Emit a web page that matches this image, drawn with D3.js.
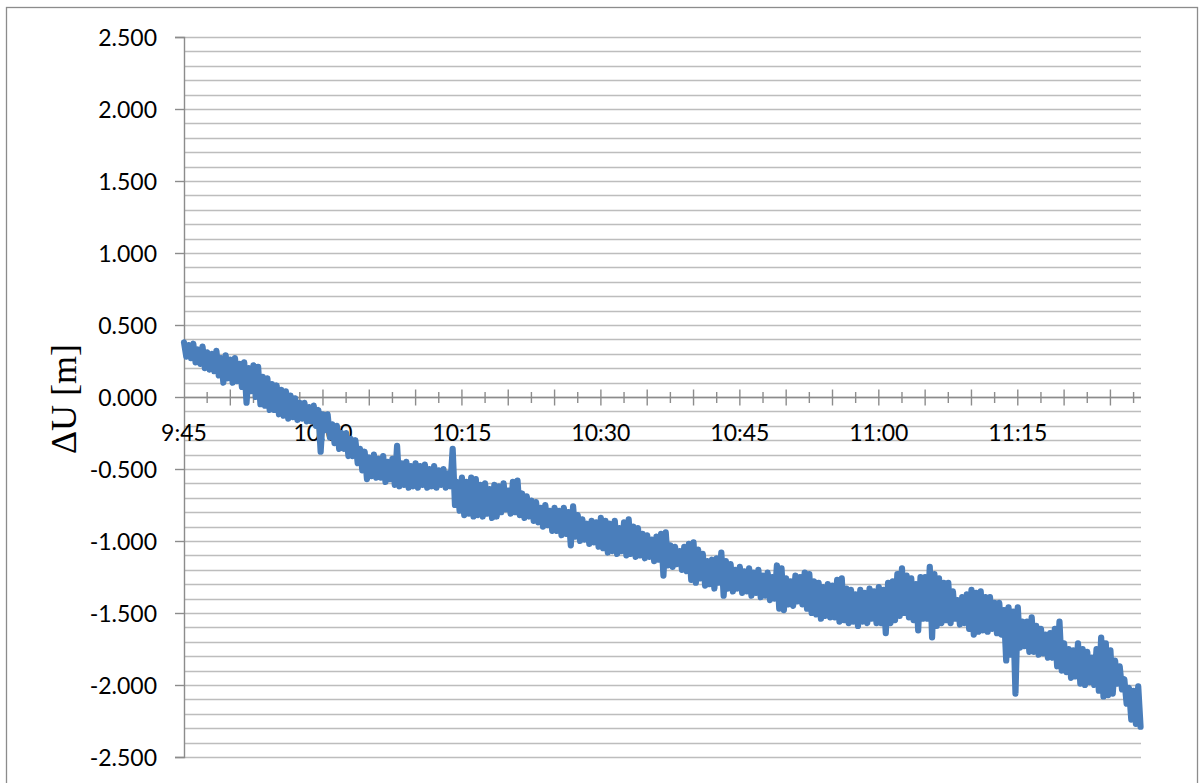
<!DOCTYPE html>
<html>
<head>
<meta charset="utf-8">
<script src="https://cdn.jsdelivr.net/npm/d3@7"></script>
<style>
  html, body { margin: 0; padding: 0; background: #ffffff; }
  svg { display: block; }
</style>
</head>
<body>
<svg id="chart" width="1201" height="783"></svg>
<script>
// ---- data: ΔU [m] envelope per 0.5-minute bin after 9:45 (max and min in each bin) ----
const binMinutes = 0.5;
const duMax = [
  0.38, 0.36, 0.37, 0.33, 0.35, 0.31, 0.30, 0.32, 0.27, 0.29,
  0.26, 0.27, 0.23, 0.24, 0.20, 0.22, 0.21, 0.14, 0.13, 0.09,
  0.08, 0.05, 0.04, 0.01, -0.01, -0.04, -0.04, -0.07, -0.06, -0.09,
  -0.12, -0.12, -0.19, -0.20, -0.25, -0.25, -0.29, -0.30, -0.36, -0.38,
  -0.42, -0.40, -0.43, -0.41, -0.45, -0.43, -0.34, -0.46, -0.45, -0.48,
  -0.46, -0.48, -0.47, -0.50, -0.48, -0.51, -0.50, -0.53, -0.36, -0.59,
  -0.56, -0.59, -0.56, -0.57, -0.61, -0.60, -0.64, -0.61, -0.62, -0.60,
  -0.65, -0.59, -0.58, -0.67, -0.69, -0.72, -0.73, -0.77, -0.75, -0.79,
  -0.77, -0.79, -0.77, -0.80, -0.76, -0.82, -0.85, -0.88, -0.86, -0.87,
  -0.84, -0.86, -0.88, -0.86, -0.91, -0.87, -0.85, -0.90, -0.91, -0.95,
  -0.96, -0.99, -0.97, -0.95, -0.94, -1.03, -1.04, -1.07, -1.04, -1.02,
  -1.01, -1.06, -1.09, -1.14, -1.13, -1.12, -1.08, -1.14, -1.16, -1.20,
  -1.18, -1.21, -1.19, -1.22, -1.20, -1.24, -1.22, -1.25, -1.17, -1.19,
  -1.26, -1.28, -1.24, -1.25, -1.22, -1.23, -1.28, -1.29, -1.32, -1.30,
  -1.31, -1.27, -1.26, -1.33, -1.34, -1.37, -1.34, -1.36, -1.33, -1.35,
  -1.32, -1.34, -1.29, -1.28, -1.23, -1.19, -1.24, -1.26, -1.30, -1.25,
  -1.25, -1.18, -1.23, -1.26, -1.29, -1.29, -1.35, -1.41, -1.39, -1.37,
  -1.34, -1.36, -1.35, -1.39, -1.39, -1.43, -1.43, -1.48, -1.46, -1.49,
  -1.46, -1.56, -1.56, -1.53, -1.59, -1.61, -1.65, -1.64, -1.61, -1.56,
  -1.71, -1.75, -1.76, -1.71, -1.75, -1.77, -1.81, -1.75, -1.67, -1.71,
  -1.76, -1.83, -1.87, -1.96, -2.02, -2.04, -2.01
];
const duMin = [
  0.28, 0.27, 0.24, 0.23, 0.20, 0.19, 0.18, 0.15, 0.10, 0.13,
  0.10, 0.11, 0.07, -0.04, 0.04, 0.00, -0.05, -0.06, -0.09, -0.09,
  -0.12, -0.13, -0.15, -0.14, -0.16, -0.15, -0.17, -0.17, -0.20, -0.38,
  -0.23, -0.28, -0.32, -0.36, -0.36, -0.41, -0.41, -0.46, -0.51, -0.57,
  -0.55, -0.56, -0.56, -0.59, -0.57, -0.61, -0.62, -0.61, -0.63, -0.62,
  -0.63, -0.61, -0.63, -0.62, -0.63, -0.61, -0.63, -0.62, -0.75, -0.79,
  -0.82, -0.81, -0.83, -0.82, -0.83, -0.81, -0.84, -0.83, -0.80, -0.78,
  -0.81, -0.80, -0.82, -0.84, -0.83, -0.86, -0.87, -0.90, -0.89, -0.93,
  -0.93, -0.96, -0.95, -1.03, -0.97, -1.00, -0.99, -1.02, -1.01, -1.04,
  -1.05, -1.08, -1.07, -1.09, -1.07, -1.10, -1.09, -1.11, -1.10, -1.12,
  -1.11, -1.14, -1.13, -1.24, -1.17, -1.18, -1.16, -1.20, -1.21, -1.27,
  -1.29, -1.26, -1.31, -1.30, -1.33, -1.29, -1.38, -1.33, -1.35, -1.33,
  -1.36, -1.35, -1.38, -1.36, -1.39, -1.38, -1.41, -1.40, -1.47, -1.48,
  -1.44, -1.45, -1.42, -1.44, -1.47, -1.50, -1.51, -1.54, -1.52, -1.53,
  -1.53, -1.56, -1.55, -1.57, -1.56, -1.59, -1.56, -1.57, -1.54, -1.57,
  -1.57, -1.64, -1.57, -1.55, -1.52, -1.50, -1.53, -1.55, -1.62, -1.54,
  -1.54, -1.67, -1.59, -1.57, -1.55, -1.57, -1.54, -1.58, -1.57, -1.61,
  -1.65, -1.63, -1.62, -1.63, -1.61, -1.64, -1.65, -1.83, -1.79, -2.06,
  -1.74, -1.73, -1.77, -1.77, -1.79, -1.78, -1.81, -1.81, -1.87, -1.90,
  -1.91, -1.95, -1.94, -1.99, -2.00, -1.98, -2.00, -2.04, -2.08, -2.07,
  -2.06, -1.99, -2.03, -2.13, -2.24, -2.27, -2.29
];
const yTickValues = [2.5, 2.0, 1.5, 1.0, 0.5, 0.0, -0.5, -1.0, -1.5, -2.0, -2.5];
const xLabelMinutes = [0, 15, 30, 45, 60, 75, 90];
const xLabelTexts = ["9:45", "10:00", "10:15", "10:30", "10:45", "11:00", "11:15"];
const yTitle = "ΔU [m]";

// ---- layout ----
const svg = d3.select("#chart");
const plot = { left: 184, right: 1141, top: 37, bottom: 757 };
const tEnd = 103.3;

const x = d3.scaleLinear().domain([0, tEnd]).range([plot.left, plot.right]);
const y = d3.scaleLinear().domain([-2.5, 2.5]).range([plot.bottom, plot.top]);

// outer chart border
svg.append("rect")
  .attr("x", 6.5).attr("y", 7.5)
  .attr("width", 1191).attr("height", 800)
  .attr("fill", "#ffffff")
  .attr("stroke", "#8c8c8c").attr("stroke-width", 1.3);

// horizontal gridlines every 0.1
const gridVals = d3.range(-25, 26).map(d => d / 10);
svg.append("g").selectAll("line").data(gridVals).join("line")
  .attr("x1", plot.left).attr("x2", plot.right)
  .attr("y1", d => Math.round(y(d)) + 0.5).attr("y2", d => Math.round(y(d)) + 0.5)
  .attr("stroke", "#bdbdbd").attr("stroke-width", 1.4);

// y axis (left)
const yAxis = d3.axisLeft(y)
  .tickValues(yTickValues)
  .tickSize(9)
  .tickPadding(18)
  .tickFormat(d => d.toFixed(3));
const gy = svg.append("g").attr("transform", `translate(${plot.left},0)`).call(yAxis);
gy.select(".domain").attr("stroke", "#8c8c8c").attr("stroke-width", 1.4);
gy.selectAll(".tick line").attr("stroke", "#8c8c8c").attr("stroke-width", 1.4);
gy.selectAll(".tick text")
  .attr("font-family", "Lato, 'Open Sans', sans-serif")
  .attr("font-size", 23)
  .attr("fill", "#000")
  .attr("dy", "0.38em");

// x axis at ΔU = 0
const y0 = Math.round(y(0)) + 0.5;
const gx = svg.append("g");
gx.append("line")
  .attr("x1", plot.left).attr("x2", plot.right)
  .attr("y1", y0).attr("y2", y0)
  .attr("stroke", "#8c8c8c").attr("stroke-width", 1.4);
const majorT = d3.range(5, tEnd, 5);
const minorT = d3.range(2.5, tEnd, 5);
gx.selectAll("line.maj").data(majorT).join("line").attr("class", "maj")
  .attr("x1", d => x(d)).attr("x2", d => x(d))
  .attr("y1", y0 - 8).attr("y2", y0 + 8)
  .attr("stroke", "#8c8c8c").attr("stroke-width", 1.4);
gx.selectAll("line.min").data(minorT).join("line").attr("class", "min")
  .attr("x1", d => x(d)).attr("x2", d => x(d))
  .attr("y1", y0 - 5.5).attr("y2", y0 + 5.5)
  .attr("stroke", "#8c8c8c").attr("stroke-width", 1.4);
gx.selectAll("text").data(xLabelMinutes).join("text")
  .attr("x", d => x(d)).attr("y", y0 + 43)
  .attr("text-anchor", "middle")
  .attr("font-family", "Lato, 'Open Sans', sans-serif")
  .attr("font-size", 23)
  .attr("fill", "#000")
  .text((d, i) => xLabelTexts[i]);

// y-axis title
svg.append("text")
  .attr("transform", `translate(76,399) rotate(-90)`)
  .attr("text-anchor", "middle")
  .attr("font-family", "'Liberation Serif', 'DejaVu Serif', serif")
  .attr("font-size", 36)
  .attr("fill", "#000")
  .text(yTitle);

// series: within each bin the trace runs from the bin maximum to the bin minimum
const series = [];
duMax.forEach((v, i) => {
  series.push({ t: i * binMinutes, v: v });
  series.push({ t: i * binMinutes + binMinutes / 2, v: duMin[i] });
});
const line = d3.line().x(d => x(d.t)).y(d => y(d.v));
svg.append("path")
  .datum(series)
  .attr("d", line)
  .attr("fill", "none")
  .attr("stroke", "#4a7ebb")
  .attr("stroke-width", 6.2)
  .attr("stroke-linejoin", "round")
  .attr("stroke-linecap", "round");
</script>
</body>
</html>
